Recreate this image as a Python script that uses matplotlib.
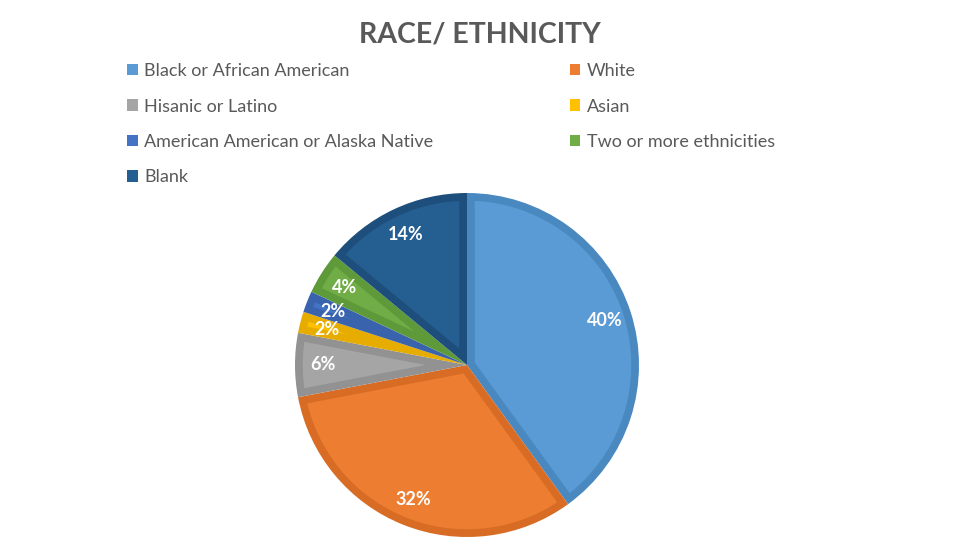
import matplotlib.pyplot as plt
import matplotlib.patches as mpatches
import numpy as np

plt.rcParams['font.family'] = ['Lato', 'DejaVu Sans']

groups = ['Black or African American', 'White', 'Hisanic or Latino', 'Asian',
          'American American or Alaska Native', 'Two or more ethnicities', 'Blank']
shares = [40, 32, 6, 2, 2, 4, 14]
fills = ['#5B9BD5', '#ED7D31', '#A5A5A5', '#FFC000', '#4472C4', '#70AD47', '#255E91']
borders = ['#4A88C0', '#D86C24', '#929292', '#E6AC00', '#3A63AE', '#5F9A3A', '#1E4F7C']
text_col = '#595959'

fig = plt.figure(figsize=(9.6, 5.57), dpi=100)
W, H = 960, 557
cx, cy, r = 467, 365, 172
ax = fig.add_axes([(cx - r) / W, (H - cy - r) / H, 2 * r / W, 2 * r / H])

wedges, texts = ax.pie(shares, colors=borders, startangle=90, counterclock=False,
                       radius=1, labels=[f'{v}%' for v in shares], labeldistance=0.84,
                       wedgeprops=dict(linewidth=0))
for t in texts:
    t.set_ha('center')
    t.set_va('center')
    t.set_color('white')
    t.set_fontweight('bold')
    t.set_fontsize(13)

# bevel look: lighter inset wedge inside each slice
d = 0.045
clip = mpatches.Circle((0, 0), 1 - d, transform=ax.transData)
for w, fc in zip(wedges, fills):
    t1, t2 = w.theta1, w.theta2
    half = np.radians(t2 - t1) / 2
    mid = np.radians((t1 + t2) / 2)
    shift = d / np.sin(half)
    c = (shift * np.cos(mid), shift * np.sin(mid))
    inner = mpatches.Wedge(c, 2, t1, t2, facecolor=fc, linewidth=0, zorder=1.5)
    ax.add_patch(inner)
    inner.set_clip_path(clip)
for t in texts:
    t.set_zorder(3)

ax.set_xlim(-1, 1)
ax.set_ylim(-1, 1)
ax.set_aspect('equal')
ax.axis('off')

fig.text(480 / W, 1 - 35 / H, 'RACE/ ETHNICITY', ha='center', va='center',
         fontsize=20.5, fontweight='bold', color=text_col)

order = [0, 2, 4, 6, 1, 3, 5]
handles = [mpatches.Patch(facecolor=fills[i], edgecolor='none') for i in order]
leg = fig.legend(handles, [groups[i] for i in order], ncol=2, loc='upper left',
                 bbox_to_anchor=(127 / W, 1 - 63 / H), frameon=False, fontsize=13,
                 handlelength=0.6, handleheight=0.6, handletextpad=0.35,
                 labelspacing=1.08, columnspacing=7.55, borderaxespad=0, borderpad=0)
for t in leg.get_texts():
    t.set_color(text_col)

fig.savefig('out.png', dpi=100, facecolor='white')
